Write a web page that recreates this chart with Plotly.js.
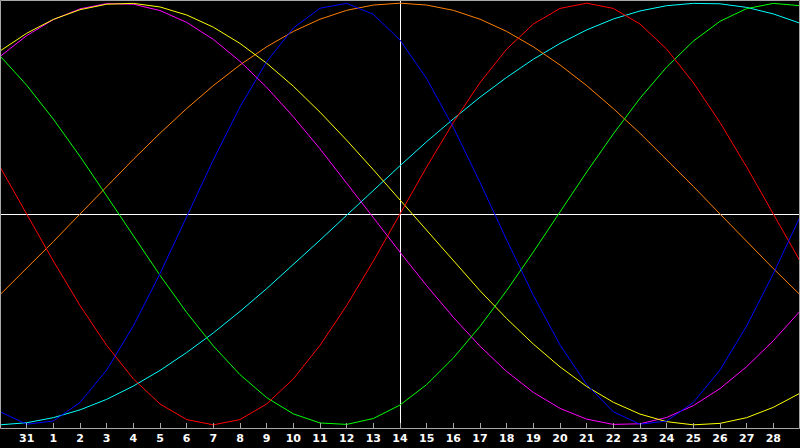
<!DOCTYPE html>
<html>
<head>
<meta charset="utf-8">
<script src="https://cdn.plot.ly/plotly-3.0.1.min.js"></script>
<style>html,body{margin:0;padding:0;background:#000;}#chart{width:800px;height:448px;}</style>
</head>
<body>
<div id="chart"></div>
<script>
// day labels along the bottom axis (positions 1..29)
const dayLabels = ["31","1","2","3","4","5","6","7","8","9","10","11","12","13","14","15","16","17","18","19","20","21","22","23","24","25","26","27","28"];
// sample index 0..30 (one value per day)
const sampleDays = [0,1,2,3,4,5,6,7,8,9,10,11,12,13,14,15,16,17,18,19,20,21,22,23,24,25,26,27,28,29,30];

const blueVals    = [-0.938,-0.997,-0.982,-0.894,-0.740,-0.531,-0.283,-0.014,0.257,0.508,0.722,0.882,0.976,0.999,0.947,0.825,0.642,0.411,0.150,-0.123,-0.386,-0.621,-0.809,-0.938,-0.997,-0.982,-0.894,-0.740,-0.531,-0.283,-0.014];
const redVals     = [0.223,0,-0.223,-0.434,-0.623,-0.782,-0.901,-0.975,-1,-0.975,-0.901,-0.782,-0.623,-0.434,-0.223,0,0.223,0.434,0.623,0.782,0.901,0.975,1,0.975,0.901,0.782,0.623,0.434,0.223,0,-0.223];
const greenVals   = [0.750,0.611,0.450,0.273,0.086,-0.105,-0.291,-0.467,-0.626,-0.762,-0.871,-0.948,-0.991,-0.998,-0.970,-0.906,-0.809,-0.683,-0.533,-0.363,-0.180,0.010,0.199,0.380,0.549,0.697,0.820,0.914,0.974,0.999,0.988];
const magentaVals = [0.747,0.846,0.922,0.973,0.998,0.995,0.965,0.909,0.828,0.724,0.601,0.461,0.309,0.148,-0.017,-0.181,-0.340,-0.490,-0.627,-0.747,-0.846,-0.922,-0.973,-0.998,-0.995,-0.965,-0.909,-0.828,-0.724,-0.601,-0.461];
const yellowVals  = [0.773,0.857,0.923,0.969,0.995,0.999,0.982,0.944,0.886,0.809,0.715,0.606,0.483,0.350,0.210,0.066,-0.080,-0.225,-0.364,-0.496,-0.617,-0.725,-0.818,-0.893,-0.949,-0.985,-1.000,-0.993,-0.966,-0.917,-0.850];
const orangeVals  = [-0.383,-0.259,-0.131,0,0.131,0.259,0.383,0.5,0.609,0.707,0.793,0.866,0.924,0.966,0.991,1,0.991,0.966,0.924,0.866,0.793,0.707,0.609,0.5,0.383,0.259,0.131,0,-0.131,-0.259,-0.383];
const cyanVals    = [-1.000,-0.990,-0.966,-0.929,-0.879,-0.816,-0.742,-0.657,-0.564,-0.462,-0.354,-0.241,-0.124,-0.006,0.112,0.229,0.343,0.451,0.554,0.648,0.734,0.809,0.873,0.925,0.963,0.988,0.999,0.997,0.980,0.949,0.905];

const todayIndex = 15;

const series = [
  {vals: cyanVals, color: "#00ffff"},
  {vals: orangeVals, color: "#ff8000"},
  {vals: magentaVals, color: "#ff00ff"},
  {vals: yellowVals, color: "#ffff00"},
  {vals: greenVals, color: "#00ff00"},
  {vals: redVals, color: "#ff0000"},
  {vals: blueVals, color: "#0000ff"}
];

const traces = series.map(s => ({
  x: sampleDays, y: s.vals, type: "scatter", mode: "lines",
  line: {color: s.color, width: 1, shape: "linear"},
  hoverinfo: "skip", showlegend: false
}));

const tickVals = dayLabels.map((_, i) => i + 1);

// half-pixel offsets so 1px crosshair lines render crisp
const halfPxX = 0.5 / (800 / 30);

const layout = {
  width: 800, height: 448,
  margin: {l: 0, r: 0, t: 0, b: 20, pad: 0},
  paper_bgcolor: "#000000",
  plot_bgcolor: "rgba(0,0,0,0)",
  showlegend: false,
  xaxis: {
    range: [0, 30], fixedrange: true,
    showgrid: false, zeroline: false, showline: false,
    ticks: "inside", ticklen: 5, tickwidth: 1, tickcolor: "#a8a8a8",
    tickvals: tickVals, ticktext: dayLabels,
    tickfont: {family: "DejaVu Sans", size: 11, color: "#ffffff", weight: "bold"},
    tickangle: 0, ticklabelstandoff: 2
  },
  yaxis: {
    range: [-1.015, 1.015], fixedrange: true,
    visible: false, showgrid: false, zeroline: false
  },
  shapes: [
    {type: "line", xref: "x", yref: "paper", x0: todayIndex + halfPxX, x1: todayIndex + halfPxX, y0: 0, y1: 1,
     line: {color: "#ffffff", width: 1}, layer: "below"},
    {type: "line", xref: "paper", yref: "paper", x0: 0, x1: 1, y0: 1 - 214.5 / 428, y1: 1 - 214.5 / 428,
     line: {color: "#ffffff", width: 1}, layer: "below"},
    {type: "rect", xref: "paper", yref: "paper", x0: 0.000625, x1: 0.999375, y0: -0.00117, y1: 0.99883,
     line: {color: "#a8a8a8", width: 1}, fillcolor: "rgba(0,0,0,0)", layer: "above"}
  ]
};

Plotly.newPlot("chart", traces, layout, {staticPlot: true, displayModeBar: false});
</script>
</body>
</html>
